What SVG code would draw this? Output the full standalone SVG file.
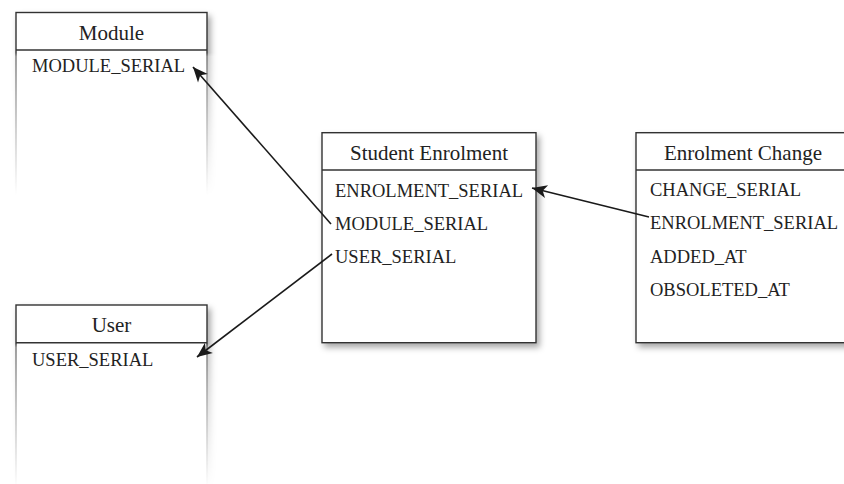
<svg xmlns="http://www.w3.org/2000/svg" width="844" height="484" viewBox="0 0 844 484">
  <style>
    .title { font-family: "Liberation Serif", "Times New Roman", serif; font-size: 21px; fill: #222; text-anchor: middle; }
    .field { font-family: "Liberation Serif", "Times New Roman", serif; font-size: 18.5px; fill: #222; }
    .box { fill: #fff; stroke: #333; stroke-width: 1.4; }
    .edge { fill: none; stroke: #1a1a1a; stroke-width: 1.6; marker-end: url(#arrow); }
  </style>
  <defs>
    <filter id="shadow" x="-10%" y="-10%" width="130%" height="130%">
      <feDropShadow dx="3" dy="4" stdDeviation="3" flood-color="#000" flood-opacity="0.35"/>
    </filter>
    <marker id="arrow" markerUnits="userSpaceOnUse" markerWidth="18" markerHeight="16" viewBox="-16 -8 18 16" refX="0" refY="0" orient="auto">
      <path d="M0,0 L-15,-6.5 L-11,0 L-15,6.5 Z" fill="#1a1a1a"/>
    </marker>
    <linearGradient id="fadeModule" gradientUnits="userSpaceOnUse" x1="0" y1="0" x2="0" y2="195">
      <stop offset="0" stop-color="#fff"/>
      <stop offset="0.27" stop-color="#fff"/>
      <stop offset="0.29" stop-color="#aaa"/>
      <stop offset="1" stop-color="#000"/>
    </linearGradient>
    <linearGradient id="fadeUser" gradientUnits="userSpaceOnUse" x1="0" y1="290" x2="0" y2="488">
      <stop offset="0" stop-color="#fff"/>
      <stop offset="0.27" stop-color="#fff"/>
      <stop offset="0.29" stop-color="#aaa"/>
      <stop offset="1" stop-color="#000"/>
    </linearGradient>
    <mask id="maskModule" maskUnits="userSpaceOnUse" x="0" y="0" width="260" height="200">
      <rect x="0" y="0" width="260" height="200" fill="url(#fadeModule)"/>
    </mask>
    <mask id="maskUser" maskUnits="userSpaceOnUse" x="0" y="290" width="260" height="200">
      <rect x="0" y="290" width="260" height="200" fill="url(#fadeUser)"/>
    </mask>
  </defs>

  <!-- Module table -->
  <g id="module">
    <g mask="url(#maskModule)">
      <rect class="box" x="16" y="12.5" width="191" height="200" filter="url(#shadow)"/>
      <line x1="16" y1="50" x2="207" y2="50" stroke="#333" stroke-width="1.4"/>
    </g>
    <text class="title" x="111.5" y="39.5">Module</text>
    <text class="field" x="32" y="72">MODULE_SERIAL</text>
  </g>

  <!-- User table -->
  <g id="user">
    <g mask="url(#maskUser)">
      <rect class="box" x="16" y="305" width="191" height="200" filter="url(#shadow)"/>
      <line x1="16" y1="342.7" x2="207" y2="342.7" stroke="#333" stroke-width="1.4"/>
    </g>
    <text class="title" x="111.5" y="332">User</text>
    <text class="field" x="32" y="366">USER_SERIAL</text>
  </g>

  <!-- Student Enrolment table -->
  <g id="student-enrolment">
    <rect class="box" x="322" y="132.7" width="214" height="210" filter="url(#shadow)"/>
    <line x1="322" y1="170" x2="536" y2="170" stroke="#333" stroke-width="1.4"/>
    <text class="title" x="429" y="159.5">Student Enrolment</text>
    <text class="field" x="335" y="196.5">ENROLMENT_SERIAL</text>
    <text class="field" x="335" y="230">MODULE_SERIAL</text>
    <text class="field" x="335" y="262.7">USER_SERIAL</text>
  </g>

  <!-- Enrolment Change table -->
  <g id="enrolment-change">
    <rect class="box" x="636" y="132.7" width="214" height="210" filter="url(#shadow)"/>
    <line x1="636" y1="170" x2="850" y2="170" stroke="#333" stroke-width="1.4"/>
    <text class="title" x="743" y="159.5">Enrolment Change</text>
    <text class="field" x="650" y="195.5">CHANGE_SERIAL</text>
    <text class="field" x="650" y="229">ENROLMENT_SERIAL</text>
    <text class="field" x="650" y="262.5">ADDED_AT</text>
    <text class="field" x="650" y="296">OBSOLETED_AT</text>
  </g>

  <!-- Foreign key references -->
  <g id="connectors">
    <line class="edge" x1="331" y1="224" x2="193" y2="67"/>
    <line class="edge" x1="332" y1="254" x2="197" y2="357"/>
    <line class="edge" x1="649" y1="217" x2="532" y2="188"/>
  </g>
</svg>
